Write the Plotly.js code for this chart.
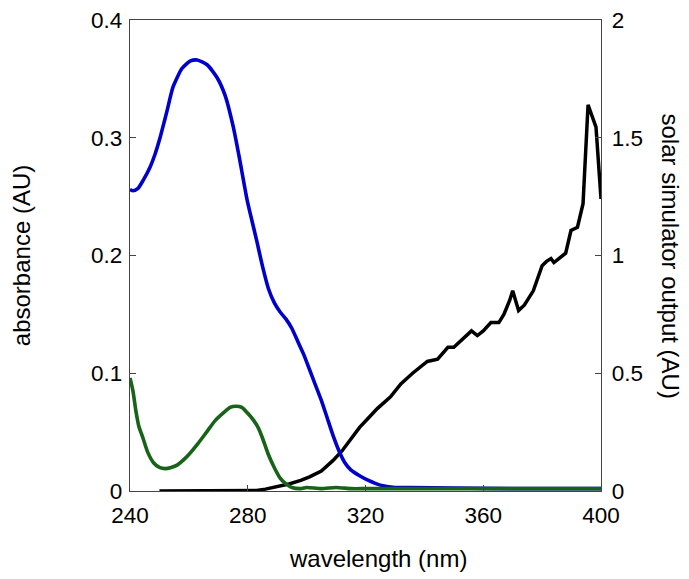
<!DOCTYPE html>
<html>
<head>
<meta charset="utf-8">
<script src="https://cdn.plot.ly/plotly-3.0.1.min.js"></script>
<style>html,body{margin:0;padding:0;background:#fff;}#chart{width:689px;height:579px;}</style>
</head>
<body>
<div id="chart"></div>
<script>
// Blue absorbance curve (left axis)
const blueWl = [240,241,242.7,244.5,246.8,248.5,250.2,252.6,254.6,257.7,260.4,262.8,266.2,269.6,272.3,275.1,277,279.8,281,283,285,287,289,291,293,295,297,299,301,303,305,307,309,311,313,315,318,321,325,330,335,350,370,390,400];
const blueAbs = [0.256,0.255,0.257,0.264,0.275,0.286,0.300,0.323,0.343,0.359,0.365,0.366,0.362,0.351,0.336,0.309,0.285,0.247,0.234,0.213,0.191,0.172,0.160,0.152,0.146,0.138,0.127,0.116,0.103,0.090,0.077,0.062,0.047,0.034,0.024,0.018,0.013,0.009,0.005,0.003,0.003,0.0025,0.002,0.002,0.002];

// Green absorbance curve (left axis)
const greenWl = [240,241,242,243,244.4,246,248,250,252,254,256,258,260,263,266,269,272,274,276,278,280,282,283.5,285,287,289,291,293,295,298,300,305,310,315,320,330,340,350,360,370,380,390,400];
const greenAbs = [0.096,0.085,0.068,0.055,0.045,0.033,0.024,0.020,0.019,0.020,0.022,0.026,0.031,0.040,0.050,0.060,0.067,0.071,0.072,0.071,0.066,0.060,0.054,0.045,0.031,0.020,0.011,0.006,0.003,0.002,0.003,0.002,0.003,0.002,0.002,0.002,0.002,0.002,0.002,0.002,0.002,0.002,0.002];

// Black solar simulator output (right axis)
const solarWl = [250,260,270,280,283,286,290,294,298,301,305,309,312,315,318,321,324,328.5,332,336,341,344.5,348,350,353,356,358,360,362.6,365.3,367,369,370,372,374,377,380,381.5,383,384,386,388,389.8,392,393.9,395.6,398.3,400];
const solarOut = [0,0,0,0,0.002,0.008,0.018,0.030,0.045,0.060,0.085,0.13,0.17,0.22,0.27,0.31,0.35,0.40,0.455,0.50,0.55,0.56,0.61,0.61,0.645,0.68,0.66,0.68,0.715,0.715,0.75,0.81,0.85,0.766,0.79,0.85,0.957,0.975,0.987,0.97,0.99,1.01,1.106,1.12,1.22,1.64,1.545,1.24];

const xTicks = [240,280,320,360,400];
const absTicks = [0,0.1,0.2,0.3,0.4];
const solarTicks = [0,0.5,1,1.5,2];

const fam = '"Liberation Sans", Arial, sans-serif';
const tickFont = {family:fam, size:22.5, color:'#000'};
const titleFont = {family:fam, size:24, color:'#000'};
const axisLine = '#444';

const traces = [
  {x:solarWl, y:solarOut, type:'scatter', mode:'lines', xaxis:'x', yaxis:'y',
   line:{color:'#000', width:3.5}, name:'solar simulator'},
  {x:blueWl, y:blueAbs, type:'scatter', mode:'lines', xaxis:'x', yaxis:'y2',
   line:{color:'#0000cc', width:3.6, shape:'spline', smoothing:0.6}, name:'blue'},
  {x:greenWl, y:greenAbs, type:'scatter', mode:'lines', xaxis:'x', yaxis:'y2',
   line:{color:'#176317', width:3.6, shape:'spline', smoothing:0.6}, name:'green'}
];

const layout = {
  width:689, height:579,
  margin:{l:130, r:88, t:20, b:88},
  paper_bgcolor:'#fff', plot_bgcolor:'#fff',
  font:tickFont,
  showlegend:false,
  xaxis:{range:[240,400], tickvals:xTicks, ticktext:xTicks.map(String),
    ticks:'inside', ticklen:6, tickcolor:axisLine, showline:true, linecolor:axisLine, linewidth:1.3,
    mirror:true, showgrid:false, zeroline:false, tickfont:tickFont, ticklabelstandoff:4},
  yaxis:{range:[0,2], tickvals:solarTicks, ticktext:solarTicks.map(String), side:'right',
    ticks:'inside', ticklen:6, tickcolor:axisLine, showline:true, linecolor:axisLine, linewidth:1.3,
    showgrid:false, zeroline:false, tickfont:tickFont, ticklabelstandoff:5},
  yaxis2:{range:[0,0.4], tickvals:absTicks, ticktext:absTicks.map(String), side:'left', overlaying:'y',
    ticks:'inside', ticklen:6, tickcolor:axisLine, showline:true, linecolor:axisLine, linewidth:1.3,
    showgrid:false, zeroline:false, tickfont:tickFont, ticklabelstandoff:2,
    title:{text:'absorbance (AU)', font:titleFont, standoff:53}},
  annotations:[
    {text:'wavelength (nm)', xref:'paper', yref:'paper', x:0.5255, y:0, yshift:-67,
     showarrow:false, font:titleFont, xanchor:'center', yanchor:'middle'},
    {text:'solar simulator output (AU)', xref:'paper', yref:'paper', x:1, xshift:69, y:0.5,
     textangle:90, showarrow:false, font:titleFont, xanchor:'center', yanchor:'middle'}
  ]
};

Plotly.newPlot('chart', traces, layout, {staticPlot:true, displayModeBar:false});
</script>
</body>
</html>
